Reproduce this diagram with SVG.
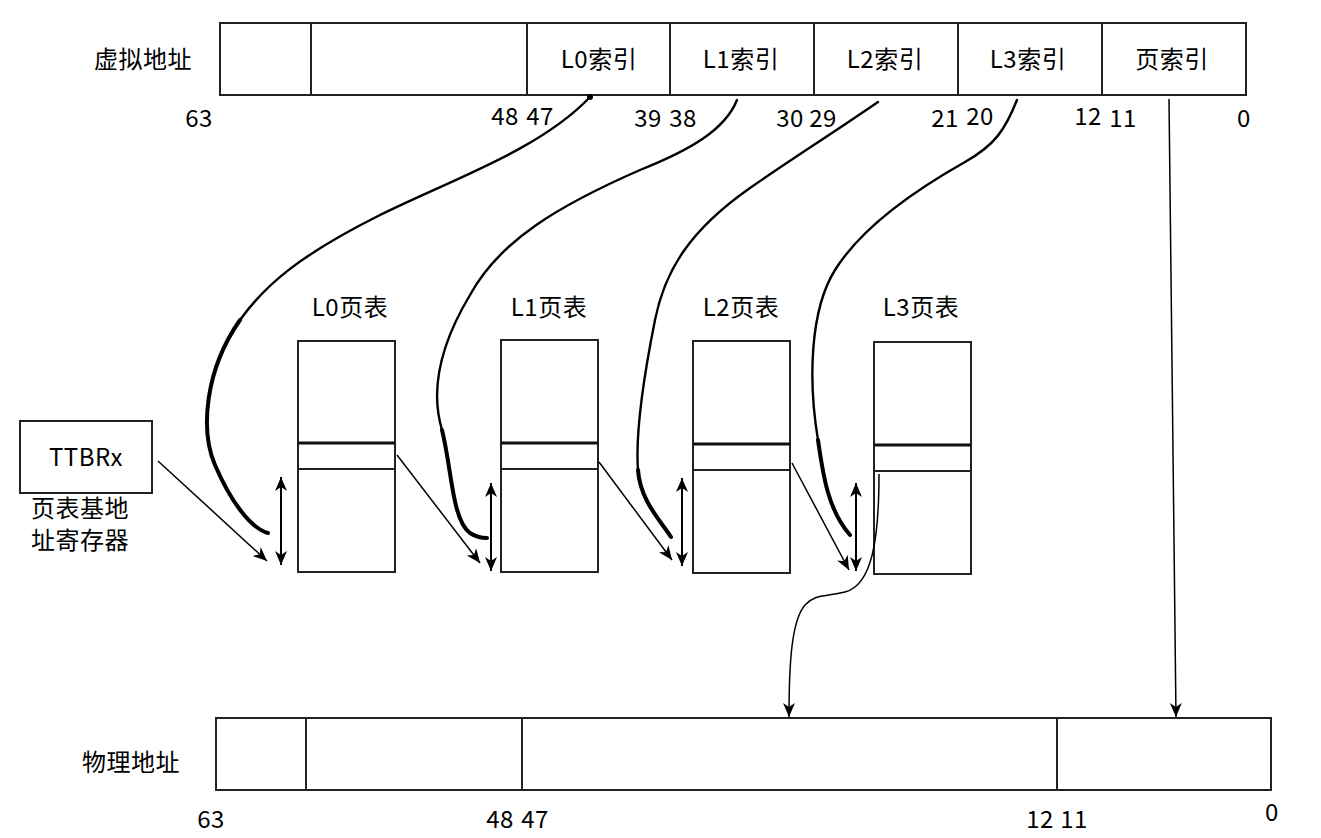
<svg xmlns="http://www.w3.org/2000/svg" width="1321" height="838" viewBox="0 0 1321 838">
<defs>
<marker id="arr" markerUnits="userSpaceOnUse" markerWidth="16" markerHeight="14" refX="14" refY="6" orient="auto-start-reverse" viewBox="0 0 16 14">
<path d="M0,0 L14,6 L0,12 L4,6 z" fill="#000"/>
</marker>
<style>
text{font-family:"Noto Sans CJK SC","Noto Sans",sans-serif;font-size:24px;letter-spacing:0.5px;fill:#000}
.box{fill:#fff;stroke:#222;stroke-width:2}
.div{stroke:#222;stroke-width:2}
.sep{stroke:#111;stroke-width:3}
.c{fill:none;stroke:#000;stroke-width:2.4;stroke-linecap:round}
.ct{fill:none;stroke:#000;stroke-width:4;stroke-linecap:round}
.a{fill:none;stroke:#000;stroke-width:1.5;marker-end:url(#arr)}
.da{fill:none;stroke:#000;stroke-width:2;marker-start:url(#arr);marker-end:url(#arr)}
.m{text-anchor:middle}
</style>
</defs>
<rect width="1321" height="838" fill="#fff"/>

<g id="vaddr">
<rect class="box" x="220" y="23" width="1026" height="72"/>
<line class="div" x1="311" y1="23" x2="311" y2="95"/>
<line class="div" x1="527" y1="23" x2="527" y2="95"/>
<line class="div" x1="670" y1="23" x2="670" y2="95"/>
<line class="div" x1="814" y1="23" x2="814" y2="95"/>
<line class="div" x1="958" y1="23" x2="958" y2="95"/>
<line class="div" x1="1102" y1="23" x2="1102" y2="95"/>
<text class="m" x="143" y="68">虚拟地址</text>
<text class="m" x="599" y="68">L0索引</text>
<text class="m" x="741" y="68">L1索引</text>
<text class="m" x="885" y="68">L2索引</text>
<text class="m" x="1028" y="68">L3索引</text>
<text class="m" x="1172" y="68">页索引</text>
<text class="m" x="199" y="127">63</text>
<text class="m" x="505" y="125">48</text>
<text class="m" x="540" y="125">47</text>
<text class="m" x="648" y="127">39</text>
<text class="m" x="683" y="127">38</text>
<text class="m" x="790" y="127">30</text>
<text class="m" x="823" y="127">29</text>
<text class="m" x="945" y="127">21</text>
<text class="m" x="980" y="125">20</text>
<text class="m" x="1088" y="125">12</text>
<text class="m" x="1123" y="127">11</text>
<text class="m" x="1244" y="127">0</text>
</g>

<g id="ttbr">
<rect class="box" x="20" y="421" width="132" height="72"/>
<text class="m" x="86" y="466">TTBRx</text>
<text x="31" y="517">页表基地</text>
<text x="31" y="549">址寄存器</text>
</g>

<g id="l0">
<text class="m" x="350" y="316">L0页表</text>
<rect class="box" x="298" y="341" width="97" height="231"/>
<line class="sep" x1="298" y1="443" x2="395" y2="443"/>
<line class="div" x1="298" y1="469" x2="395" y2="469"/>
</g>
<g id="l1">
<text class="m" x="549" y="316">L1页表</text>
<rect class="box" x="501" y="340" width="97" height="232"/>
<line class="sep" x1="501" y1="443" x2="598" y2="443"/>
<line class="div" x1="501" y1="469" x2="598" y2="469"/>
</g>
<g id="l2">
<text class="m" x="741" y="316">L2页表</text>
<rect class="box" x="693" y="341" width="97" height="232"/>
<line class="sep" x1="693" y1="444" x2="790" y2="444"/>
<line class="div" x1="693" y1="470" x2="790" y2="470"/>
</g>
<g id="l3">
<text class="m" x="921" y="316">L3页表</text>
<rect class="box" x="874" y="342" width="97" height="232"/>
<line class="sep" x1="874" y1="445" x2="971" y2="445"/>
<line class="div" x1="874" y1="471" x2="971" y2="471"/>
</g>

<g id="paddr">
<rect class="box" x="216" y="718" width="1055" height="72"/>
<line class="div" x1="306" y1="718" x2="306" y2="790"/>
<line class="div" x1="522" y1="718" x2="522" y2="790"/>
<line class="div" x1="1057" y1="718" x2="1057" y2="790"/>
<text class="m" x="131" y="771">物理地址</text>
<text class="m" x="211" y="828">63</text>
<text class="m" x="500" y="828">48</text>
<text class="m" x="535" y="828">47</text>
<text class="m" x="1040" y="828">12</text>
<text class="m" x="1074" y="828">11</text>
<text class="m" x="1272" y="821">0</text>
</g>

<g id="connectors">
<circle cx="590" cy="97" r="3" fill="#000"/>
<path class="c" d="M590,97 C540,150 450,180 380,215 C300,255 265,285 240,320"/>
<path class="ct" d="M240,320 C205,370 200,430 215,465 C230,500 250,528 268,533"/>
<path class="c" d="M737,100 C725,130 690,150 640,170 C560,205 500,240 470,295 C440,345 430,390 442,430"/>
<path class="ct" d="M442,430 C452,470 452,520 470,533 C476,537 482,538 487,538"/>
<path class="c" d="M878,102 C830,135 790,160 750,188 C690,230 665,270 655,320 C645,370 635,430 638,470"/>
<path class="ct" d="M638,470 C640,500 660,520 671,537"/>
<path class="c" d="M1017,100 C1005,130 995,145 965,162 C910,193 860,230 835,270 C810,310 808,380 818,440"/>
<path class="ct" d="M818,440 C823,475 828,510 850,535"/>

<line class="a" x1="158" y1="461" x2="267" y2="561"/>
<line class="a" x1="397" y1="455" x2="480" y2="563"/>
<line class="a" x1="599" y1="462" x2="672" y2="560"/>
<line class="a" x1="792" y1="463" x2="849" y2="570"/>

<line class="da" x1="281" y1="477" x2="281" y2="565"/>
<line class="da" x1="491" y1="483" x2="491" y2="571"/>
<line class="da" x1="682" y1="478" x2="682" y2="566"/>
<line class="da" x1="856" y1="483" x2="856" y2="571"/>

<path class="a" d="M879,474 C879,540 872,585 845,592 C825,597 815,594 805,605 C792,620 789,660 789,717"/>
<line class="a" x1="1169" y1="99" x2="1176" y2="717"/>
</g>
</svg>
